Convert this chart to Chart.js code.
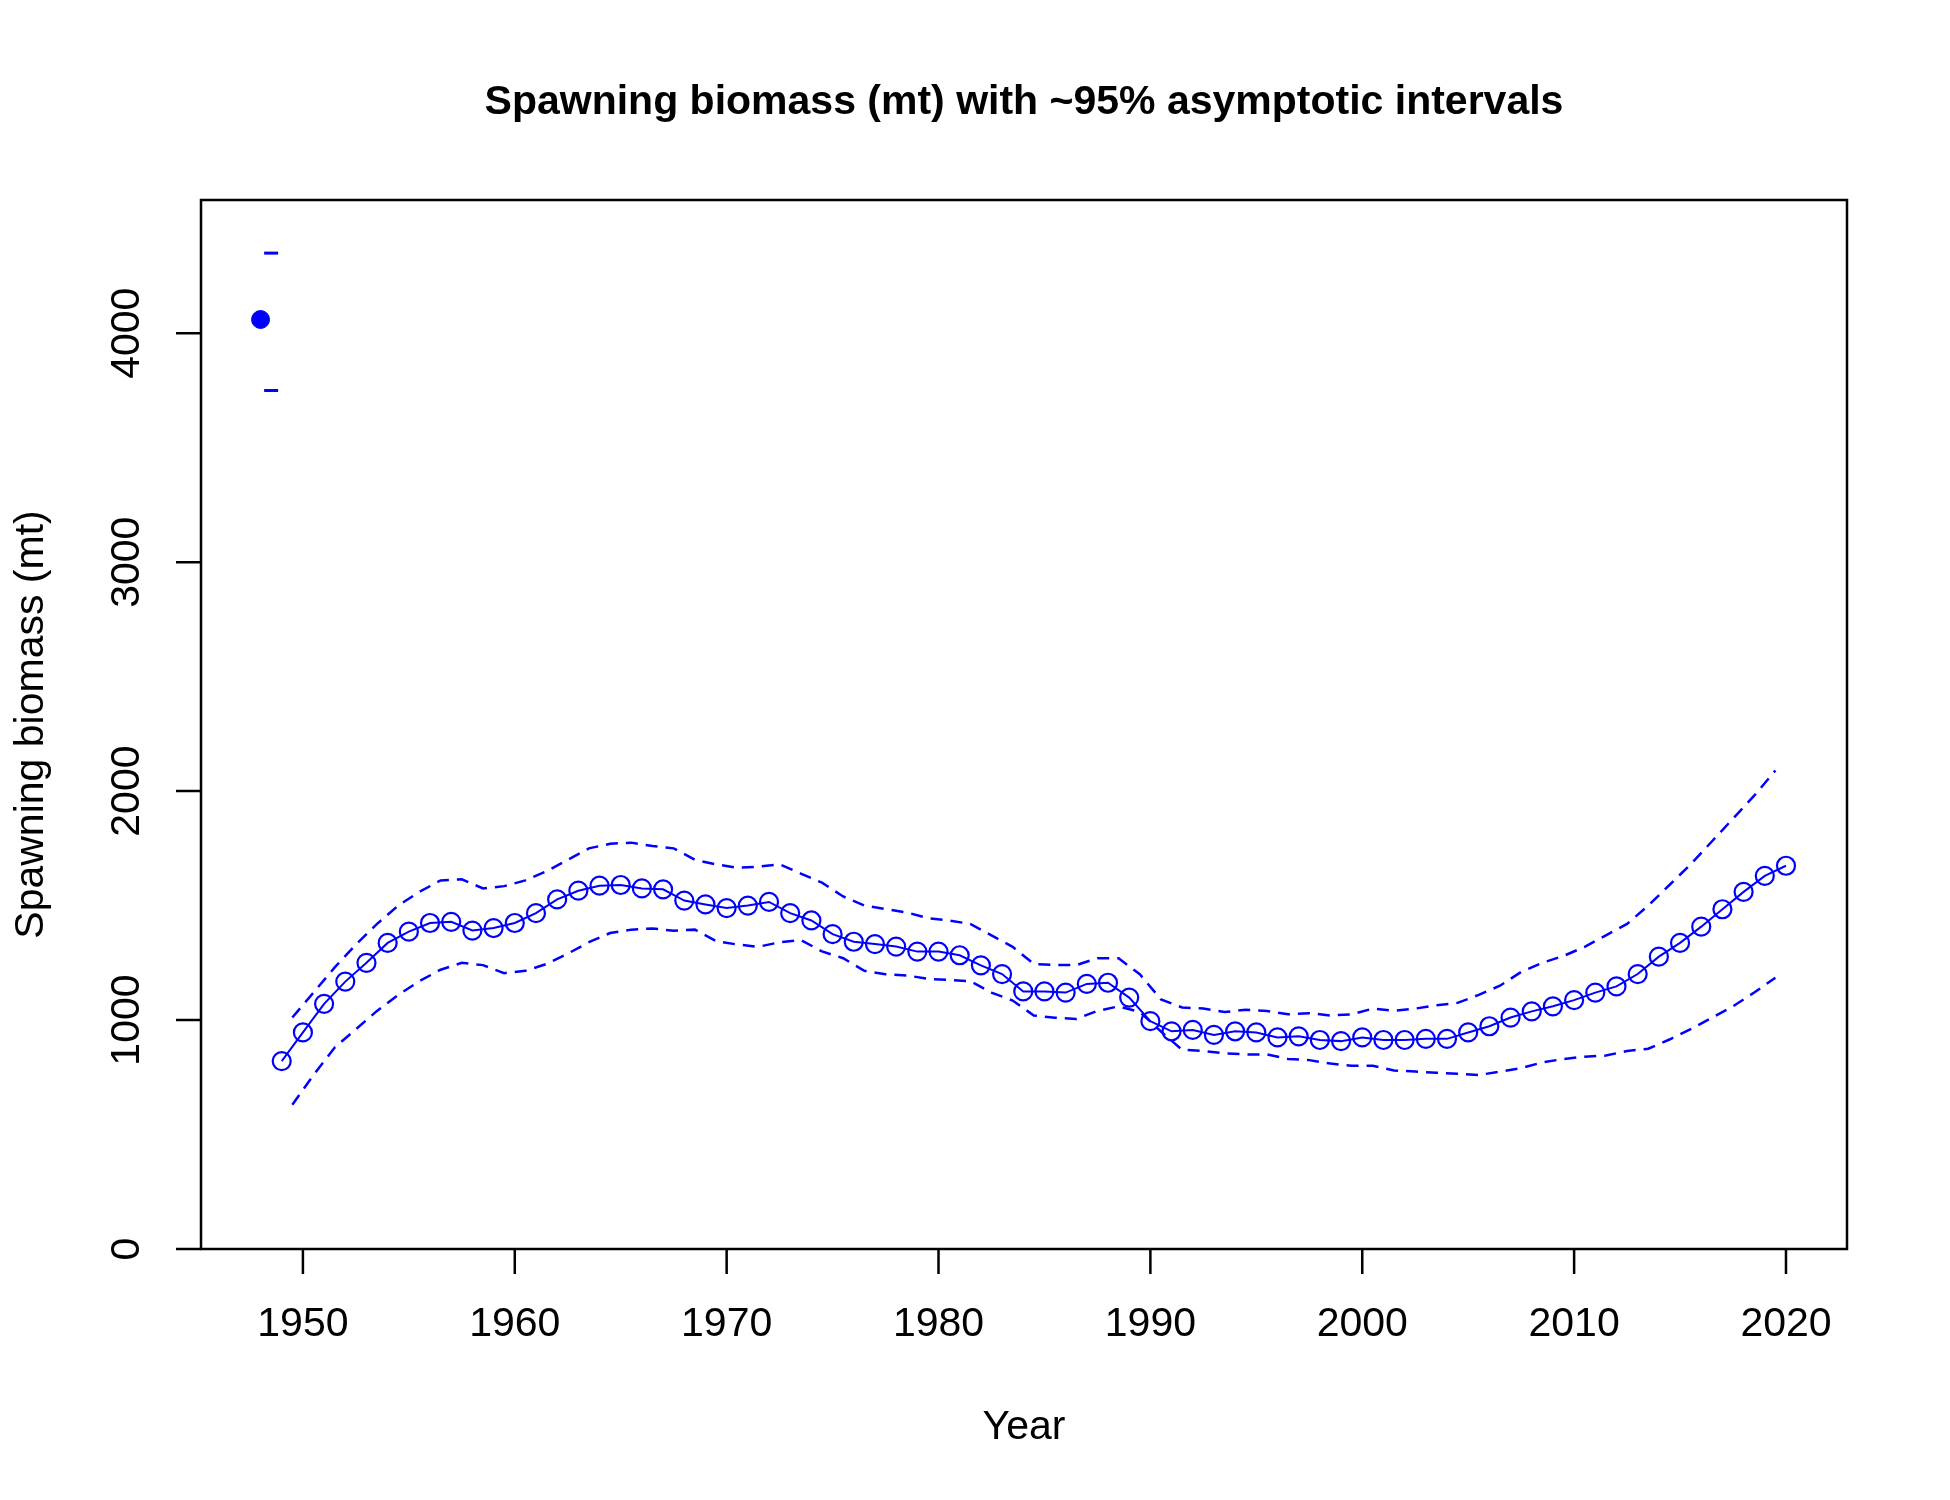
<!DOCTYPE html>
<html><head><meta charset="utf-8">
<script src="https://cdn.jsdelivr.net/npm/chart.js@4"></script>
<style>html,body{margin:0;background:#fff}#wrap{width:1950px;height:1500px}</style>
</head><body><div id="wrap"><canvas id="c"></canvas></div>
<script>
/* ---------- Data ---------- */
const years = [];
for (let y = 1949; y <= 2020; y++) years.push(y);
const biomass = [821,946,1071,1168,1250,1337,1386,1424,1429,1391,1402,1424,1467,1527,1565,1587,1590,1575,1571,1522,
  1505,1489,1500,1516,1467,1435,1375,1342,1332,1321,1299,1299,1283,1239,1201,1125,1125,1120,1158,1163,
  1098,995,951,957,935,951,946,924,929,913,908,924,913,913,918,918,946,973,1011,1038,1060,1087,1120,1147,
  1201,1277,1337,1408,1484,1560,1630,1674];
// interval lines are drawn half a year later, 1949.5 .. 2019.5
const upper = [1011,1120,1230,1330,1420,1500,1560,1610,1615,1575,1585,1610,1650,1700,1750,1770,1775,1760,1750,1700,
  1680,1665,1670,1680,1640,1600,1540,1500,1485,1470,1445,1435,1420,1370,1320,1245,1240,1240,1270,1270,
  1200,1090,1055,1050,1035,1045,1040,1025,1030,1020,1025,1050,1040,1050,1065,1075,1110,1150,1210,1250,
  1280,1320,1370,1420,1500,1590,1680,1780,1880,1980,2090];
const lower = [630,760,880,960,1040,1110,1170,1220,1250,1240,1205,1215,1245,1290,1340,1380,1395,1400,1390,1395,
  1345,1330,1320,1340,1350,1300,1270,1215,1200,1195,1180,1175,1170,1120,1085,1020,1010,1005,1040,1060,
  1035,950,870,865,855,850,850,830,825,810,800,800,780,775,770,765,760,775,790,815,
  830,840,845,865,875,915,960,1010,1060,1120,1185];
const virginYear = 1948, virginValue = 4060, virginUpper = 4350, virginLower = 3750;
const xTicks = [1950,1960,1970,1980,1990,2000,2010,2020];
const yTicks = [0,1000,2000,3000,4000];

const BLUE = '#0000ff';
const FONT = '"Liberation Sans", Arial, sans-serif';
const pts = (xs, ys) => ys.map((v, i) => ({ x: xs[i], y: v }));
const halfYears = years.slice(0, upper.length).map(y => y + 0.5);

/* ---------- R-style frame ---------- */
const rFrame = {
  id: 'rFrame',
  afterDraw(chart) {
    const { ctx, chartArea: a, scales: { x, y } } = chart;
    ctx.save();
    ctx.strokeStyle = '#000'; ctx.lineWidth = 2.5; ctx.fillStyle = '#000';
    ctx.strokeRect(a.left, a.top, a.right - a.left, a.bottom - a.top);
    ctx.beginPath();
    xTicks.forEach(t => { const p = x.getPixelForValue(t); ctx.moveTo(p, a.bottom); ctx.lineTo(p, a.bottom + 25); });
    yTicks.forEach(t => { const p = y.getPixelForValue(t); ctx.moveTo(a.left, p); ctx.lineTo(a.left - 25, p); });
    ctx.stroke();
    ctx.font = '41px ' + FONT; ctx.textAlign = 'center'; ctx.textBaseline = 'middle';
    xTicks.forEach(t => ctx.fillText(String(t), x.getPixelForValue(t), 1325));
    yTicks.forEach(t => {
      ctx.save(); ctx.translate(128, y.getPixelForValue(t)); ctx.rotate(-Math.PI / 2);
      ctx.fillText(String(t), 0, 0); ctx.restore();
    });
    ctx.fillText('Year', (a.left + a.right) / 2, 1428);
    ctx.save(); ctx.translate(32, (a.top + a.bottom) / 2); ctx.rotate(-Math.PI / 2);
    ctx.fillText('Spawning biomass (mt)', 0, 0); ctx.restore();
    ctx.font = 'bold 41px ' + FONT;
    ctx.fillText('Spawning biomass (mt) with ~95% asymptotic intervals', (a.left + a.right) / 2, 103);
    ctx.restore();
  }
};

new Chart(document.getElementById('c'), {
  type: 'scatter',
  data: { datasets: [
    { data: pts(years, biomass), showLine: true, borderColor: BLUE, borderWidth: 2,
      pointRadius: 9, pointBorderWidth: 2.2, pointBackgroundColor: 'rgba(0,0,0,0)', pointBorderColor: BLUE },
    { data: pts(halfYears, upper), showLine: true, borderColor: BLUE, borderWidth: 2.5, borderDash: [12, 8], pointRadius: 0 },
    { data: pts(halfYears, lower), showLine: true, borderColor: BLUE, borderWidth: 2.5, borderDash: [12, 8], pointRadius: 0 },
    { data: [{ x: virginYear, y: virginValue }], pointRadius: 9, pointBackgroundColor: BLUE, pointBorderColor: BLUE },
    { data: [{ x: virginYear + 0.5, y: virginUpper }, { x: virginYear + 0.5, y: virginLower }],
      pointStyle: 'line', pointRadius: 7, pointBorderWidth: 3, pointBorderColor: BLUE }
  ]},
  options: {
    responsive: true, maintainAspectRatio: false, animation: false,
    layout: { padding: { left: 201, right: 103, top: 200, bottom: 251 } },
    plugins: { legend: { display: false }, tooltip: { enabled: false } },
    scales: {
      x: { type: 'linear', min: 1945.19, max: 2022.88, display: false },
      y: { min: 0, max: 4582, display: false }
    }
  },
  plugins: [rFrame]
});
</script></body></html>
